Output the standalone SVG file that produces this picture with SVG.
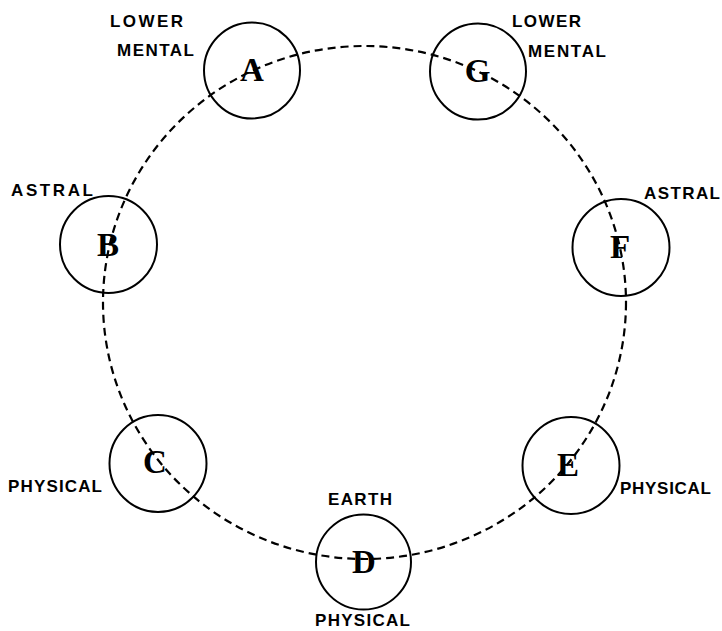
<svg xmlns="http://www.w3.org/2000/svg" width="722" height="631" viewBox="0 0 722 631">
<style>
.ring{fill:none;stroke:#000;stroke-width:2;}
.orbit{fill:none;stroke:#000;stroke-width:2.2;stroke-dasharray:8 5;}
.let{font-family:"Liberation Serif","Times New Roman",serif;font-weight:bold;font-size:33px;text-anchor:middle;fill:#000;}
.lab{font-family:"Liberation Sans",Arial,sans-serif;font-weight:bold;font-size:17px;fill:#000;}
</style>
<rect width="722" height="631" fill="#fff"/>
<g id="connectors">
<ellipse class="orbit" cx="364.5" cy="302.5" rx="261.5" ry="256.5"/>
</g>
<g id="node-A">
<circle class="ring" cx="252" cy="70.5" r="48"/>
<text class="let" x="252" y="81">A</text>
<text class="lab" x="110" y="27" textLength="73" lengthAdjust="spacing">LOWER</text>
<text class="lab" x="117" y="56" textLength="77" lengthAdjust="spacing">MENTAL</text>
</g>
<g id="node-G">
<circle class="ring" cx="478" cy="71.5" r="48"/>
<text class="let" x="477.5" y="82">G</text>
<text class="lab" x="512" y="27" textLength="69" lengthAdjust="spacing">LOWER</text>
<text class="lab" x="528" y="57" textLength="78" lengthAdjust="spacing">MENTAL</text>
</g>
<g id="node-B">
<circle class="ring" cx="108.5" cy="244.5" r="48.5"/>
<text class="let" x="108" y="256">B</text>
<text class="lab" x="11" y="196" textLength="82" lengthAdjust="spacing">ASTRAL</text>
</g>
<g id="node-F">
<circle class="ring" cx="621" cy="247.5" r="48.5"/>
<text class="let" x="620" y="258">F</text>
<text class="lab" x="644" y="199" textLength="76" lengthAdjust="spacing">ASTRAL</text>
</g>
<g id="node-C">
<circle class="ring" cx="158" cy="463.5" r="48.5"/>
<text class="let" x="155" y="473">C</text>
<text class="lab" x="8" y="492" textLength="94" lengthAdjust="spacing">PHYSICAL</text>
</g>
<g id="node-E">
<circle class="ring" cx="571" cy="465.5" r="48.5"/>
<text class="let" x="568" y="476">E</text>
<text class="lab" x="620" y="494" textLength="91" lengthAdjust="spacing">PHYSICAL</text>
</g>
<g id="node-D">
<circle class="ring" cx="363.5" cy="562" r="47.5"/>
<text class="let" x="364" y="573">D</text>
<text class="lab" x="328" y="505" textLength="64" lengthAdjust="spacing">EARTH</text>
<text class="lab" x="315" y="626" textLength="95" lengthAdjust="spacing">PHYSICAL</text>
</g>
</svg>
